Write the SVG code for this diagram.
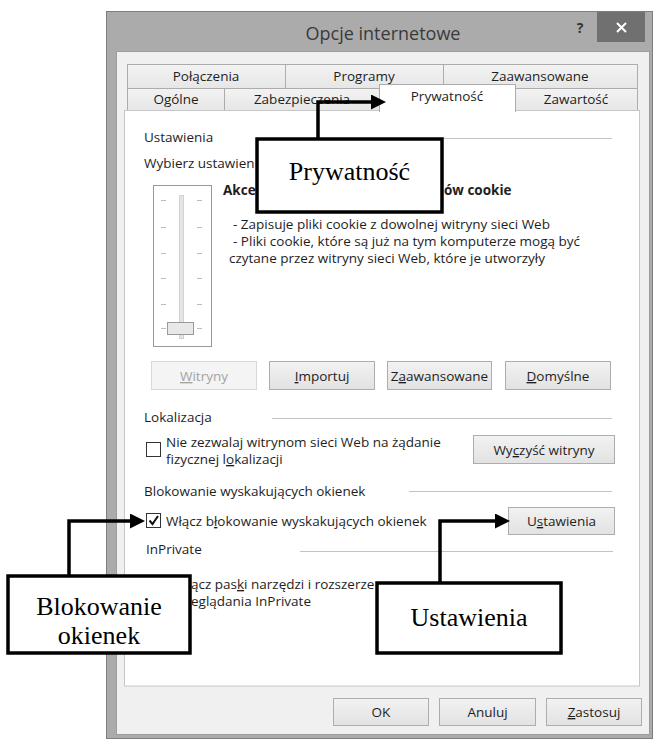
<svg xmlns="http://www.w3.org/2000/svg" width="653" height="740" viewBox="0 0 653 740">
<defs>
<linearGradient id="gbtn" x1="0" y1="0" x2="0" y2="1"><stop offset="0" stop-color="#f2f2f2"/><stop offset="1" stop-color="#e2e2e2"/></linearGradient>
<linearGradient id="gtab" x1="0" y1="0" x2="0" y2="1"><stop offset="0" stop-color="#f3f3f3"/><stop offset="1" stop-color="#e6e6e6"/></linearGradient>
<marker id="ah" viewBox="0 0 15 15" markerWidth="15" markerHeight="15" refX="5" refY="7.5" orient="auto" markerUnits="userSpaceOnUse"><path d="M0,0 L15,7.5 L0,15 Z" fill="#000"/></marker>
</defs>
<style>
.ui{font-family:"Open Sans","Segoe UI","Noto Sans",sans-serif;font-size:13.5px;fill:#1e1e1e}
.c{text-anchor:middle}
.b{font-weight:bold}
.dis{fill:#a3a3a3}
.btn{fill:url(#gbtn);stroke:#adadad;stroke-width:1}
.btnd{fill:#f4f4f4;stroke:#d9d9d9;stroke-width:1}
.tab{fill:url(#gtab);stroke:#acacac;stroke-width:1}
.grp{stroke:#c3c3c3;stroke-width:1;fill:none}
.chk{fill:#fff;stroke:#333;stroke-width:1}
.call{fill:#fff;stroke:#000;stroke-width:3.5}
.ct{font-family:"Liberation Serif","Times New Roman",serif;font-size:26px;fill:#000;text-anchor:middle}
.conn{fill:none;stroke:#000;stroke-width:3.5;marker-end:url(#ah)}
.u{text-decoration:underline}
.tick{stroke:#bdbdbd;stroke-width:1}
</style>

<g id="window">
<rect x="106.5" y="11.5" width="546" height="727" fill="#ababab" stroke="#7d7d7d"/>
<text class="ui c" x="383" y="40" style="font-size:18px;fill:#3a3a3a">Opcje internetowe</text>
<text class="ui c b" x="580" y="33" style="font-size:14px;fill:#333">?</text>
<rect x="597" y="12" width="48" height="30" fill="#707070"/>
<path d="M617,23 L626,32 M626,23 L617,32" stroke="#fff" stroke-width="2"/>
<rect x="116.5" y="51.5" width="533" height="683" fill="#f0f0f0" stroke="#9c9c9c"/>
</g>

<g id="tabs">
<rect class="tab" x="127.5" y="64.5" width="158" height="24"/>
<rect class="tab" x="285.5" y="64.5" width="158" height="24"/>
<rect class="tab" x="443.5" y="64.5" width="194" height="24"/>
<text class="ui c" x="206" y="81">Połączenia</text>
<text class="ui c" x="364" y="81">Programy</text>
<text class="ui c" x="540" y="81">Zaawansowane</text>
<rect class="tab" x="127.5" y="88.5" width="97" height="22"/>
<rect class="tab" x="224.5" y="88.5" width="155" height="22"/>
<rect class="tab" x="515.5" y="88.5" width="122" height="22"/>
<text class="ui c" x="176" y="104">Ogólne</text>
<text class="ui c" x="302" y="104">Zabezpieczenia</text>
<text class="ui c" x="576" y="104">Zawartość</text>
</g>

<g id="panel">
<rect x="124.5" y="110.5" width="515" height="575.5" fill="#fff" stroke="#c6c6c6"/>
</g>

<g id="tab-prywatnosc">
<rect x="379.5" y="84.5" width="136" height="27" fill="#fff" stroke="#acacac"/>
<rect x="380" y="109" width="135" height="4" fill="#fff"/>
<text class="ui c" x="447" y="101">Prywatność</text>
</g>

<g id="ustawienia-group">
<text class="ui" x="144" y="142">Ustawienia</text>
<line class="grp" x1="260" y1="138.5" x2="612" y2="138.5"/>
<text class="ui" x="144" y="168">Wybierz ustawien</text>
</g>

<g id="slider">
<rect x="153.5" y="185.5" width="58" height="161" fill="none" stroke="#333" stroke-dasharray="1 1"/>
<rect x="179.5" y="195.5" width="4" height="143" fill="#e4e4e4" stroke="#d2d2d2"/>
<path class="tick" d="M161,200.5h5M197,200.5h5M161,227.5h5M197,227.5h5M161,253.5h5M197,253.5h5M161,278.5h5M197,278.5h5M161,304.5h5M197,304.5h5M161,328.5h5M197,328.5h5"/>
<rect x="167.5" y="322.5" width="26" height="12" fill="#e8e8e8" stroke="#9a9a9a"/>
</g>

<g id="cookie-text">
<text class="ui b" x="223" y="195">Akce</text>
<text class="ui b" x="444" y="195">ów cookie</text>
<text class="ui" x="233" y="229">- Zapisuje pliki cookie z dowolnej witryny sieci Web</text>
<text class="ui" x="233" y="246">- Pliki cookie, które są już na tym komputerze mogą być</text>
<text class="ui" x="229" y="263">czytane przez witryny sieci Web, które je utworzyły</text>
</g>

<g id="buttons-row">
<rect class="btnd" x="151.5" y="361.5" width="105" height="28"/>
<text class="ui c dis" x="204" y="381"><tspan class="u">W</tspan>itryny</text>
<rect class="btn" x="269.5" y="361.5" width="105" height="28"/>
<text class="ui c" x="322" y="381"><tspan class="u">I</tspan>mportuj</text>
<rect class="btn" x="387.5" y="361.5" width="104" height="28"/>
<text class="ui c" x="439.5" y="381">Z<tspan class="u">a</tspan>awansowane</text>
<rect class="btn" x="505.5" y="361.5" width="105" height="28"/>
<text class="ui c" x="558" y="381"><tspan class="u">D</tspan>omyślne</text>
</g>

<g id="lokalizacja">
<text class="ui" x="144" y="422">Lokalizacja</text>
<line class="grp" x1="272" y1="418.5" x2="612" y2="418.5"/>
<rect class="chk" x="146.5" y="442.5" width="14" height="14"/>
<text class="ui" x="166" y="447">Nie zezwalaj witrynom sieci Web na żądanie</text>
<text class="ui" x="166" y="464">fizycznej l<tspan class="u">o</tspan>kalizacji</text>
<rect class="btn" x="473.5" y="435.5" width="141" height="28"/>
<text class="ui c" x="544" y="455">Wy<tspan class="u">c</tspan>zyść witryny</text>
</g>

<g id="blokowanie">
<text class="ui" x="144" y="496">Blokowanie wyskakujących okienek</text>
<line class="grp" x1="409" y1="491.5" x2="612" y2="491.5"/>
<rect class="chk" x="146.5" y="513.5" width="14" height="14"/>
<path d="M149.5,520.5 L152.5,524 L158,516" fill="none" stroke="#111" stroke-width="2"/>
<text class="ui" x="166" y="526">Włącz b<tspan class="u">ł</tspan>okowanie wyskakujących okienek</text>
<rect class="btn" x="508.5" y="507.5" width="106" height="27"/>
<text class="ui c" x="561.5" y="526">U<tspan class="u">s</tspan>tawienia</text>
</g>

<g id="inprivate">
<text class="ui" x="146" y="554">InPrivate</text>
<line class="grp" x1="300" y1="551.5" x2="613" y2="551.5"/>
<text class="ui" x="191" y="589">ącz pas<tspan class="u">k</tspan>i narzędzi i rozszerze</text>
<text class="ui" x="191" y="606">eglądania InPrivate</text>
</g>

<g id="bottom-buttons">
<rect class="btn" x="333.5" y="698.5" width="95" height="27"/>
<text class="ui c" x="381" y="717">OK</text>
<rect class="btn" x="439.5" y="698.5" width="96" height="27"/>
<text class="ui c" x="487.5" y="717">Anuluj</text>
<rect class="btn" x="546.5" y="698.5" width="95" height="27"/>
<text class="ui c" x="594" y="717"><tspan class="u">Z</tspan>astosuj</text>
</g>

<g id="connectors">
<path class="conn" d="M318,139 V102 H376"/>
<path class="conn" d="M69,576 V521 H135"/>
<path class="conn" d="M440,583 V521 H500"/>
</g>

<g id="callout-prywatnosc">
<rect class="call" x="257" y="139" width="185" height="73"/>
<text class="ct" x="349.5" y="180">Prywatność</text>
</g>

<g id="callout-blokowanie">
<rect class="call" x="8" y="576" width="182" height="77"/>
<text class="ct" x="99" y="615">Blokowanie</text>
<text class="ct" x="99" y="644">okienek</text>
</g>

<g id="callout-ustawienia">
<rect class="call" x="377" y="583" width="184" height="70"/>
<text class="ct" x="469" y="626">Ustawienia</text>
</g>
</svg>
